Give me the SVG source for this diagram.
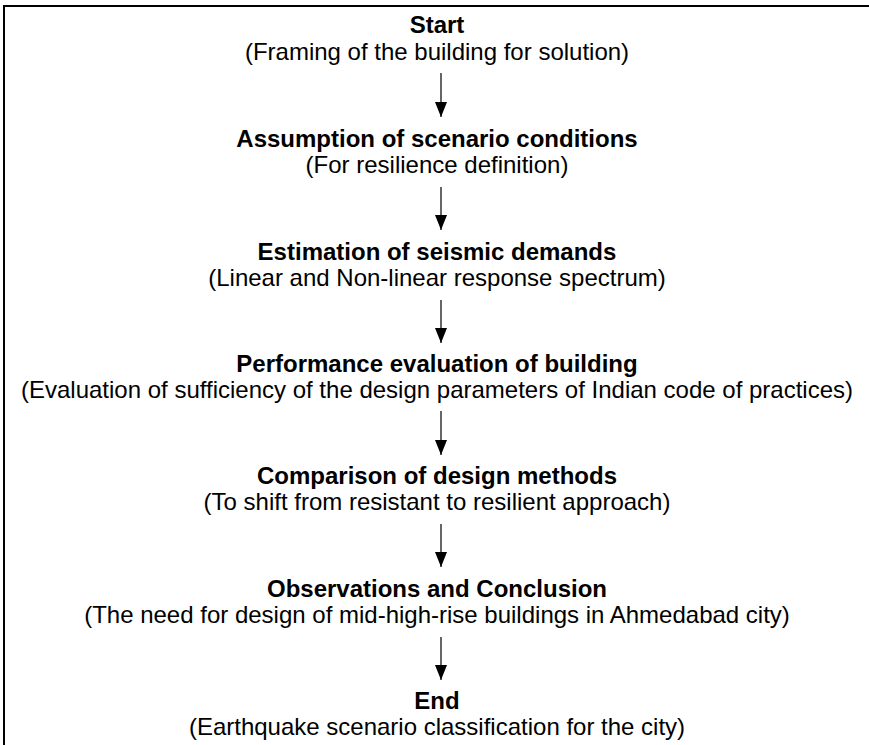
<svg xmlns="http://www.w3.org/2000/svg" width="869" height="745" viewBox="0 0 869 745">
  <style>
    text { font-family: "Liberation Sans", Arial, sans-serif; font-size: 24px; fill: #000; text-anchor: middle; }
    .title { font-weight: bold; }
    .frame { fill: none; stroke: #000; stroke-width: 2; }
    .link { stroke: #000; stroke-width: 1.2; fill: none; marker-end: url(#head); }
  </style>
  <defs>
    <!-- filled triangular head, drawn pointing along +x so orient="auto" follows the line -->
    <marker id="head" viewBox="0 0 15 12" refX="15" refY="6" markerWidth="15" markerHeight="12" markerUnits="userSpaceOnUse" orient="auto">
      <path d="M0,0 L15,6 L0,12 Z" fill="#000"/>
    </marker>
  </defs>
  <rect width="869" height="745" fill="#fff"/>
  <!-- open frame: top and left edges only -->
  <path class="frame" d="M4,745 V6 H869"/>

  <g id="start">
    <text class="title" x="437" y="33">Start</text>
    <text x="437" y="60">(Framing of the building for solution)</text>
  </g>
  <g id="assumption">
    <text class="title" x="437" y="147">Assumption of scenario conditions</text>
    <text x="437" y="173">(For resilience definition)</text>
  </g>
  <g id="estimation">
    <text class="title" x="437" y="260">Estimation of seismic demands</text>
    <text x="437" y="286">(Linear and Non-linear response spectrum)</text>
  </g>
  <g id="performance">
    <text class="title" x="437" y="372">Performance evaluation of building</text>
    <text x="437" y="398">(Evaluation of sufficiency of the design parameters of Indian code of practices)</text>
  </g>
  <g id="comparison">
    <text class="title" x="437" y="484">Comparison of design methods</text>
    <text x="437" y="510">(To shift from resistant to resilient approach)</text>
  </g>
  <g id="observations">
    <text class="title" x="437" y="597">Observations and Conclusion</text>
    <text x="437" y="623">(The need for design of mid-high-rise buildings in Ahmedabad city)</text>
  </g>
  <g id="end">
    <text class="title" x="437" y="709">End</text>
    <text x="437" y="735">(Earthquake scenario classification for the city)</text>
  </g>

  <g id="connectors">
    <path class="link" d="M441,73 V117"/>
    <path class="link" d="M441,187 V230"/>
    <path class="link" d="M441,300 V343"/>
    <path class="link" d="M441,411 V455"/>
    <path class="link" d="M441,524 V567"/>
    <path class="link" d="M441,637 V680"/>
  </g>
</svg>
